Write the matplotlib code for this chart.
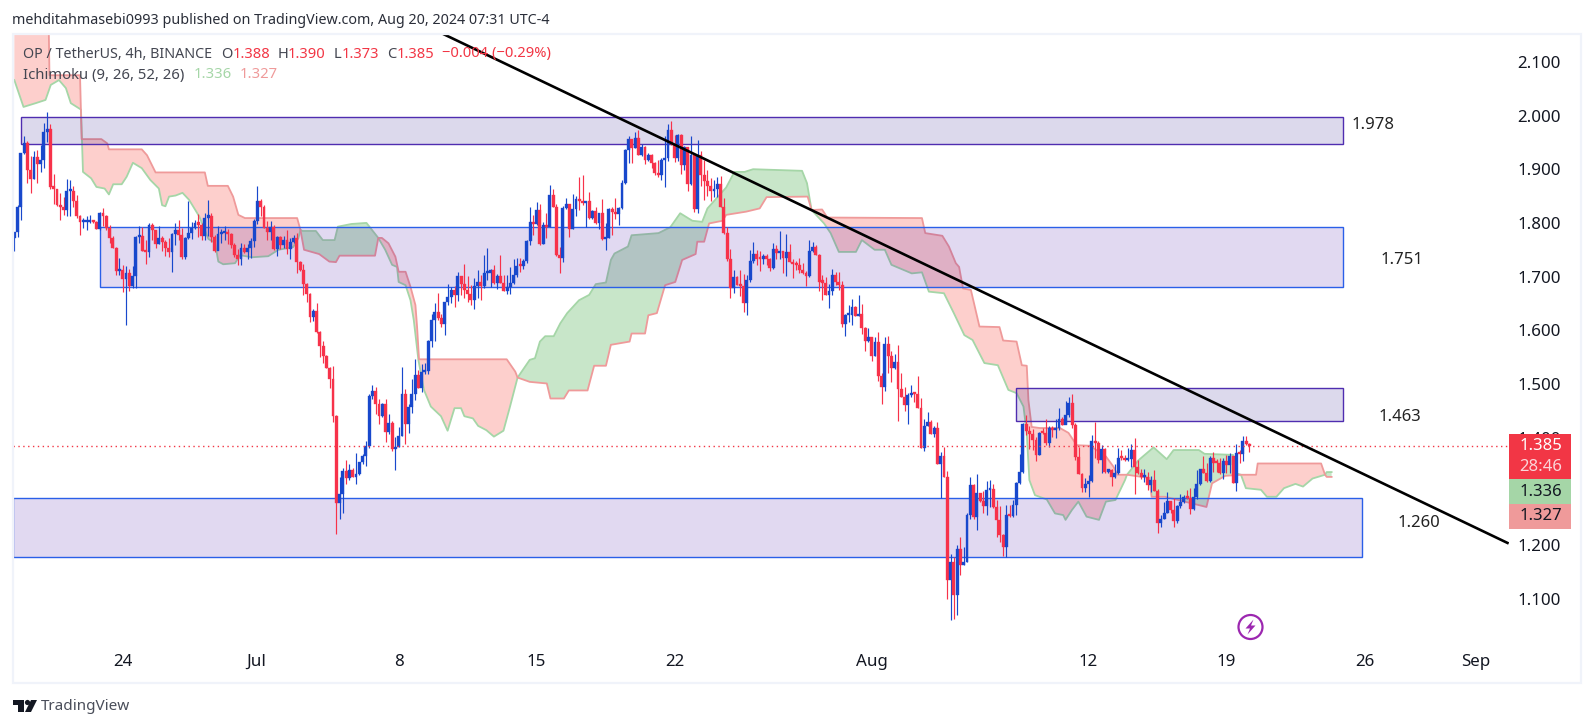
import matplotlib
matplotlib.use("Agg")
import matplotlib.pyplot as plt
import numpy as np
import pandas as pd
from matplotlib.patches import Circle, Polygon, Rectangle
from matplotlib.transforms import ScaledTranslation

plt.rcParams['font.family'] = ['Noto Sans', 'DejaVu Sans']

W, H = 1594, 728
BLUE = '#1848cc'
RED = '#f7324a'

# 4h candles, bar 0 = Jun 18 12:00, each open is the previous close
first_bar = pd.Timestamp('2024-06-18 12:00')
first_open = 1.772
closes = [
    1.783, 1.829, 1.930, 1.948, 1.899, 1.882, 1.922, 1.910, 1.918, 1.969, 1.974, 1.866, 1.864, 1.833, 1.830, 1.824, 1.859, 1.859,
    1.840, 1.812, 1.802, 1.802, 1.802, 1.802, 1.801, 1.789, 1.818, 1.812, 1.790, 1.771, 1.754, 1.710, 1.712, 1.696, 1.706, 1.682,
    1.702, 1.774, 1.776, 1.748, 1.745, 1.796, 1.786, 1.761, 1.771, 1.764, 1.754, 1.745, 1.779, 1.787, 1.777, 1.737, 1.771, 1.781,
    1.791, 1.799, 1.797, 1.776, 1.810, 1.812, 1.774, 1.748, 1.779, 1.781, 1.784, 1.779, 1.758, 1.740, 1.733, 1.753, 1.746, 1.753,
    1.766, 1.803, 1.840, 1.830, 1.791, 1.783, 1.792, 1.751, 1.774, 1.758, 1.769, 1.752, 1.764, 1.772, 1.728, 1.712, 1.686, 1.667,
    1.625, 1.636, 1.597, 1.571, 1.553, 1.530, 1.509, 1.440, 1.279, 1.296, 1.338, 1.325, 1.340, 1.327, 1.332, 1.354, 1.366, 1.385, 1.478,
    1.487, 1.463, 1.440, 1.463, 1.410, 1.427, 1.379, 1.383, 1.404, 1.481, 1.425, 1.457, 1.481, 1.517, 1.492, 1.522, 1.524, 1.580,
    1.619, 1.634, 1.622, 1.612, 1.653, 1.662, 1.675, 1.666, 1.701, 1.686, 1.675, 1.668, 1.656, 1.682, 1.690, 1.682, 1.707, 1.707,
    1.712, 1.688, 1.701, 1.689, 1.673, 1.680, 1.688, 1.703, 1.720, 1.719, 1.729, 1.766, 1.802, 1.798, 1.824, 1.761, 1.796, 1.792,
    1.852, 1.830, 1.740, 1.735, 1.828, 1.835, 1.789, 1.826, 1.844, 1.841, 1.837, 1.840, 1.809, 1.822, 1.799, 1.818, 1.770, 1.771,
    1.826, 1.821, 1.816, 1.828, 1.874, 1.936, 1.956, 1.939, 1.958, 1.926, 1.942, 1.917, 1.926, 1.911, 1.893, 1.889, 1.917, 1.921,
    1.973, 1.947, 1.921, 1.964, 1.908, 1.941, 1.872, 1.926, 1.826, 1.926, 1.889, 1.878, 1.869, 1.859, 1.864, 1.872, 1.830, 1.782, 1.733,
    1.679, 1.699, 1.684, 1.683, 1.650, 1.694, 1.729, 1.742, 1.733, 1.732, 1.738, 1.733, 1.716, 1.751, 1.744, 1.748, 1.735, 1.746,
    1.727, 1.723, 1.722, 1.712, 1.707, 1.701, 1.748, 1.755, 1.740, 1.690, 1.689, 1.666, 1.673, 1.703, 1.690, 1.684, 1.612, 1.628,
    1.629, 1.643, 1.627, 1.630, 1.604, 1.580, 1.587, 1.552, 1.578, 1.515, 1.494, 1.574, 1.552, 1.530, 1.541, 1.491, 1.476, 1.461, 1.479,
    1.483, 1.482, 1.455, 1.381, 1.422, 1.429, 1.407, 1.418, 1.351, 1.366, 1.327, 1.135, 1.168, 1.107, 1.193, 1.163, 1.168, 1.256, 1.312,
    1.252, 1.297, 1.282, 1.273, 1.302, 1.304, 1.271, 1.247, 1.219, 1.196, 1.256, 1.254, 1.275, 1.316, 1.336, 1.425, 1.412, 1.407,
    1.396, 1.368, 1.409, 1.408, 1.390, 1.418, 1.414, 1.418, 1.435, 1.424, 1.442, 1.465, 1.424, 1.364, 1.332, 1.306, 1.314, 1.320, 1.394, 1.390,
    1.358, 1.379, 1.337, 1.340, 1.327, 1.334, 1.363, 1.362, 1.358, 1.361, 1.377, 1.345, 1.334, 1.326, 1.327, 1.312,
    1.322, 1.301, 1.242, 1.249, 1.259, 1.282, 1.265, 1.244, 1.273, 1.280, 1.289, 1.288, 1.268, 1.289, 1.314, 1.342, 1.335, 1.319,
    1.363, 1.353, 1.352, 1.334, 1.357, 1.349, 1.366, 1.316, 1.372, 1.370, 1.394, 1.388, 1.385,
]
highs = [
    1.784, 1.833, 1.931, 1.962, 1.953, 1.925, 1.934, 1.936, 1.945, 1.986, 2.007, 1.984, 1.891, 1.864, 1.855, 1.848, 1.881, 1.879,
    1.869, 1.852, 1.815, 1.810, 1.812, 1.815, 1.804, 1.804, 1.820, 1.828, 1.815, 1.796, 1.776, 1.756, 1.734, 1.722, 1.719, 1.715,
    1.720, 1.776, 1.794, 1.793, 1.768, 1.799, 1.800, 1.787, 1.794, 1.776, 1.768, 1.771, 1.781, 1.799, 1.805, 1.790, 1.773, 1.840,
    1.802, 1.805, 1.817, 1.799, 1.819, 1.843, 1.818, 1.777, 1.794, 1.788, 1.794, 1.789, 1.782, 1.762, 1.751, 1.762, 1.761, 1.761,
    1.771, 1.807, 1.869, 1.844, 1.833, 1.803, 1.803, 1.796, 1.776, 1.776, 1.776, 1.787, 1.771, 1.777, 1.782, 1.730, 1.723, 1.689,
    1.669, 1.640, 1.650, 1.599, 1.581, 1.554, 1.532, 1.533, 1.443, 1.327, 1.343, 1.358, 1.351, 1.343, 1.371, 1.354, 1.369, 1.394, 1.481,
    1.498, 1.495, 1.472, 1.464, 1.473, 1.445, 1.431, 1.402, 1.420, 1.531, 1.490, 1.463, 1.509, 1.546, 1.527, 1.538, 1.540, 1.582,
    1.630, 1.650, 1.669, 1.631, 1.653, 1.686, 1.681, 1.682, 1.708, 1.702, 1.723, 1.701, 1.684, 1.697, 1.712, 1.703, 1.740, 1.753,
    1.715, 1.722, 1.705, 1.740, 1.703, 1.703, 1.718, 1.733, 1.735, 1.734, 1.733, 1.768, 1.830, 1.815, 1.839, 1.835, 1.802, 1.818,
    1.871, 1.864, 1.835, 1.755, 1.831, 1.846, 1.836, 1.854, 1.851, 1.885, 1.890, 1.841, 1.857, 1.824, 1.830, 1.818, 1.844, 1.799,
    1.828, 1.829, 1.846, 1.830, 1.880, 1.937, 1.962, 1.956, 1.969, 1.973, 1.947, 1.943, 1.931, 1.928, 1.914, 1.917, 1.921, 1.961,
    1.984, 1.990, 1.964, 1.966, 1.966, 1.943, 1.942, 1.962, 1.931, 1.954, 1.933, 1.917, 1.898, 1.883, 1.880, 1.886, 1.888, 1.846, 1.792,
    1.751, 1.713, 1.701, 1.713, 1.705, 1.703, 1.750, 1.764, 1.750, 1.748, 1.742, 1.742, 1.735, 1.763, 1.759, 1.785, 1.748, 1.779,
    1.761, 1.732, 1.729, 1.735, 1.725, 1.711, 1.768, 1.764, 1.759, 1.743, 1.703, 1.699, 1.686, 1.714, 1.709, 1.709, 1.692, 1.630,
    1.647, 1.658, 1.645, 1.666, 1.649, 1.607, 1.604, 1.588, 1.588, 1.597, 1.520, 1.587, 1.589, 1.561, 1.556, 1.572, 1.520, 1.494, 1.483,
    1.498, 1.485, 1.515, 1.474, 1.435, 1.448, 1.433, 1.422, 1.429, 1.373, 1.382, 1.338, 1.183, 1.178, 1.200, 1.215, 1.196, 1.259, 1.327,
    1.314, 1.332, 1.297, 1.301, 1.319, 1.321, 1.314, 1.284, 1.273, 1.220, 1.274, 1.274, 1.284, 1.317, 1.369, 1.427, 1.442, 1.422,
    1.417, 1.402, 1.410, 1.419, 1.435, 1.422, 1.422, 1.435, 1.455, 1.439, 1.468, 1.476, 1.481, 1.427, 1.382, 1.334, 1.325, 1.330, 1.405, 1.429,
    1.394, 1.386, 1.380, 1.341, 1.342, 1.351, 1.380, 1.378, 1.368, 1.380, 1.389, 1.399, 1.358, 1.341, 1.341, 1.337,
    1.329, 1.340, 1.304, 1.256, 1.280, 1.299, 1.283, 1.287, 1.275, 1.295, 1.293, 1.303, 1.306, 1.307, 1.340, 1.342, 1.365, 1.352,
    1.365, 1.374, 1.360, 1.362, 1.362, 1.368, 1.371, 1.366, 1.388, 1.377, 1.403, 1.403, 1.390,
]
lows = [
    1.748, 1.773, 1.805, 1.928, 1.875, 1.856, 1.881, 1.875, 1.894, 1.902, 1.950, 1.864, 1.835, 1.832, 1.805, 1.815, 1.812, 1.813,
    1.830, 1.810, 1.778, 1.791, 1.786, 1.799, 1.799, 1.788, 1.787, 1.794, 1.787, 1.762, 1.753, 1.703, 1.703, 1.672, 1.610, 1.673,
    1.679, 1.679, 1.763, 1.748, 1.724, 1.737, 1.769, 1.753, 1.761, 1.748, 1.739, 1.737, 1.709, 1.758, 1.768, 1.732, 1.733, 1.770,
    1.770, 1.788, 1.774, 1.768, 1.768, 1.776, 1.765, 1.745, 1.749, 1.762, 1.768, 1.761, 1.754, 1.737, 1.722, 1.722, 1.744, 1.733,
    1.735, 1.756, 1.798, 1.813, 1.790, 1.768, 1.768, 1.749, 1.738, 1.751, 1.754, 1.742, 1.733, 1.762, 1.707, 1.711, 1.666, 1.653,
    1.615, 1.618, 1.595, 1.551, 1.540, 1.529, 1.493, 1.430, 1.220, 1.248, 1.259, 1.314, 1.321, 1.326, 1.314, 1.330, 1.351, 1.348, 1.380,
    1.472, 1.445, 1.425, 1.439, 1.392, 1.407, 1.376, 1.340, 1.382, 1.403, 1.389, 1.408, 1.446, 1.470, 1.492, 1.486, 1.518, 1.518,
    1.568, 1.580, 1.620, 1.607, 1.591, 1.647, 1.651, 1.643, 1.655, 1.666, 1.660, 1.653, 1.647, 1.640, 1.661, 1.656, 1.678, 1.694,
    1.681, 1.686, 1.677, 1.689, 1.673, 1.668, 1.668, 1.687, 1.700, 1.709, 1.715, 1.726, 1.759, 1.777, 1.796, 1.759, 1.761, 1.771,
    1.792, 1.830, 1.739, 1.707, 1.727, 1.826, 1.774, 1.789, 1.813, 1.824, 1.833, 1.792, 1.807, 1.807, 1.798, 1.789, 1.768, 1.750,
    1.771, 1.777, 1.808, 1.796, 1.826, 1.872, 1.912, 1.912, 1.939, 1.926, 1.925, 1.910, 1.916, 1.902, 1.889, 1.886, 1.879, 1.866,
    1.916, 1.946, 1.914, 1.915, 1.891, 1.898, 1.860, 1.871, 1.821, 1.818, 1.869, 1.843, 1.851, 1.841, 1.849, 1.849, 1.830, 1.779, 1.730,
    1.661, 1.670, 1.684, 1.664, 1.635, 1.628, 1.690, 1.726, 1.722, 1.710, 1.723, 1.722, 1.710, 1.715, 1.733, 1.733, 1.707, 1.701,
    1.727, 1.697, 1.712, 1.706, 1.704, 1.682, 1.700, 1.745, 1.740, 1.673, 1.656, 1.666, 1.641, 1.666, 1.684, 1.675, 1.607, 1.589,
    1.615, 1.610, 1.626, 1.626, 1.593, 1.561, 1.579, 1.543, 1.552, 1.505, 1.463, 1.487, 1.520, 1.504, 1.528, 1.431, 1.475, 1.450, 1.425,
    1.475, 1.467, 1.455, 1.380, 1.375, 1.422, 1.406, 1.402, 1.351, 1.287, 1.327, 1.099, 1.060, 1.062, 1.070, 1.144, 1.163, 1.168, 1.248,
    1.248, 1.228, 1.281, 1.259, 1.256, 1.271, 1.270, 1.215, 1.206, 1.179, 1.177, 1.252, 1.252, 1.256, 1.314, 1.335, 1.405, 1.379,
    1.378, 1.356, 1.368, 1.407, 1.386, 1.383, 1.401, 1.399, 1.414, 1.423, 1.425, 1.439, 1.418, 1.358, 1.332, 1.299, 1.299, 1.290, 1.318, 1.362,
    1.352, 1.334, 1.335, 1.335, 1.310, 1.325, 1.332, 1.358, 1.357, 1.357, 1.346, 1.296, 1.332, 1.324, 1.318, 1.302,
    1.299, 1.300, 1.223, 1.234, 1.248, 1.259, 1.259, 1.234, 1.242, 1.270, 1.278, 1.286, 1.257, 1.265, 1.286, 1.312, 1.334, 1.318,
    1.317, 1.337, 1.337, 1.332, 1.324, 1.334, 1.334, 1.315, 1.301, 1.352, 1.357, 1.386, 1.373,
]

# Ichimoku cloud edges: bar position and price of each vertex
span_a_bars = [0, 2.8, 6.5, 9.5, 11.1, 13.6, 15.7, 17.2, 20.3, 20.9, 23.4, 25, 27.5, 28.8, 30.1, 32.7, 34.2, 36.1, 38.8, 41.4, 44, 45, 46,
               47.1, 49.1, 51.2, 53.2, 56.3, 59.1, 61.1, 62.1, 63.6, 67.2, 68.7, 72.3, 77.3, 80.4, 84.9, 86.5, 87.1, 87.7, 91.8, 93.9, 97.5,
               98.5, 102.6, 107.2, 110.8, 112.9, 115, 116.5, 117, 119.1, 120.6, 121.6, 123, 124.7, 126.8, 129.9, 131.9, 134, 136, 137, 139.6,
               141.2, 143.7, 146, 148.9, 150.9, 153.2, 156.9, 158.5, 160, 161.6, 164.2, 166.2, 168.3, 171.9, 175, 177, 180.1, 181.6, 182.7,
               186.8, 187.9, 196.1, 199.7, 202.7, 206.4, 209.4, 211, 216.7, 219.2, 222.3, 224.9, 239.8, 241.3, 242.7, 246.5, 248.5, 251, 256.2,
               258, 261.9, 265, 267, 273.2, 276.3, 278.4, 283, 286, 289.2, 291.7, 295.3, 299.4, 302.6, 305.1, 307.2, 308.2, 309, 310.7, 314.3,
               316.8, 319.3, 320, 321.9, 323.9, 326.4, 330.2, 332.3, 335.2, 338.1, 338.7, 342.2, 346.8, 350.8, 352.9, 360.6, 362.3, 371, 371.8,
               373.4, 374.9, 379.5, 381.3, 384.2, 386.5, 390, 392.3, 395.2, 399, 399.5, 401]
span_a = [2.066, 2.016, 2.023, 2.029, 2.057, 2.066, 2.051, 2.023, 2.011, 1.895, 1.883, 1.867, 1.864, 1.853, 1.872, 1.872, 1.886, 1.912, 1.902, 1.880,
          1.864, 1.833, 1.831, 1.849, 1.851, 1.856, 1.843, 1.812, 1.770, 1.763, 1.728, 1.723, 1.725, 1.740, 1.736, 1.738, 1.750, 1.755, 1.772, 1.787,
          1.785, 1.785, 1.768, 1.768, 1.793, 1.798, 1.800, 1.772, 1.750, 1.722, 1.718, 1.690, 1.684, 1.656, 1.619, 1.545, 1.489, 1.458, 1.440, 1.413,
          1.455, 1.455, 1.440, 1.436, 1.422, 1.414, 1.402, 1.413, 1.458, 1.512, 1.545, 1.548, 1.579, 1.589, 1.589, 1.613, 1.632, 1.656, 1.666, 1.686,
          1.689, 1.731, 1.743, 1.756, 1.777, 1.781, 1.792, 1.818, 1.804, 1.802, 1.827, 1.866, 1.895, 1.895, 1.900, 1.897, 1.874, 1.824, 1.799, 1.781,
          1.746, 1.746, 1.768, 1.750, 1.750, 1.722, 1.706, 1.708, 1.672, 1.669, 1.632, 1.591, 1.582, 1.539, 1.535, 1.489, 1.483, 1.458, 1.408, 1.321,
          1.293, 1.285, 1.259, 1.256, 1.247, 1.265, 1.281, 1.253, 1.247, 1.281, 1.284, 1.321, 1.331, 1.358, 1.382, 1.360, 1.377, 1.377, 1.370, 1.368,
          1.334, 1.331, 1.306, 1.303, 1.290, 1.290, 1.306, 1.314, 1.309, 1.324, 1.331, 1.336, 1.336]
span_b_bars = [0, 10.4, 10.7, 20, 20.5, 26.5, 28.3, 28.8, 38.8, 40.4, 43, 58, 58.9, 65, 66.6, 68.2, 70.2, 86.1, 87.1, 88.2, 92.8, 95.9, 97.9, 99,
               109.8, 110.8, 111.9, 113.9, 116, 117, 119.1, 120.6, 122.1, 122.6, 123.2, 149.9, 152.5, 153.2, 156.9, 162.1, 163.2, 167.3, 168.8,
               174.5, 176.5, 180.1, 181.6, 187.3, 187.9, 192, 193, 195.6, 198.1, 201.2, 203.3, 207.4, 207.9, 210, 211.5, 215.6, 216.7, 222.8,
               226.9, 229, 241.5, 242.7, 245.9, 247.5, 276.3, 277.3, 282.5, 284.5, 286.6, 287.6, 288.8, 291.2, 293.8, 299.9, 301, 305.1, 306.7,
               308.2, 308.7, 309.7, 312.2, 318.3, 320.9, 323.4, 327.5, 332.3, 334.6, 335.8, 338.7, 345.6, 346.2, 350.3, 362.9, 364.6, 368.6,
               373.4, 378, 378.5, 397.8, 399, 399.5, 401]
span_b = [2.196, 2.196, 2.075, 2.075, 1.956, 1.956, 1.948, 1.937, 1.937, 1.926, 1.894, 1.894, 1.869, 1.869, 1.849, 1.815, 1.809, 1.809, 1.787, 1.750,
          1.742, 1.728, 1.727, 1.739, 1.739, 1.772, 1.772, 1.762, 1.737, 1.709, 1.709, 1.681, 1.647, 1.607, 1.546, 1.546, 1.523, 1.512, 1.504, 1.501,
          1.473, 1.473, 1.488, 1.488, 1.534, 1.534, 1.573, 1.579, 1.594, 1.594, 1.628, 1.632, 1.684, 1.690, 1.731, 1.742, 1.765, 1.765, 1.799, 1.804,
          1.815, 1.821, 1.827, 1.848, 1.849, 1.824, 1.825, 1.810, 1.809, 1.781, 1.776, 1.756, 1.725, 1.718, 1.678, 1.675, 1.607, 1.606, 1.581, 1.579,
          1.535, 1.534, 1.470, 1.420, 1.418, 1.418, 1.409, 1.386, 1.385, 1.365, 1.346, 1.331, 1.331, 1.325, 1.290, 1.290, 1.271, 1.315, 1.329, 1.331,
          1.331, 1.352, 1.352, 1.331, 1.327, 1.327]
cloud_flips = [0, 87.1, 110.8, 153.2, 242.7, 338.7, 373.4, 399, 401]

# drawn zones: (left bar, right bar, bottom price, top price)
purple_zones = [(2.1, 404.5, 1.947, 1.998), (305, 404.5, 1.432, 1.492)]
blue_zones = [(26.2, 404.5, 1.680, 1.792), (-0.4, 410.2, 1.177, 1.287)]
trend_bars = [130.5, 454.9]
trend_prices = [2.152, 1.203]
last_close = 1.385

# 1.300 sits fully behind the 1.336 tag in the reference
price_ticks = [1.1, 1.2, 1.4, 1.5, 1.6, 1.7, 1.8, 1.9, 2.0, 2.1]
date_ticks = ['2024-06-24', '2024-07-01', '2024-07-08', '2024-07-15', '2024-07-22', '2024-08-01',
              '2024-08-12', '2024-08-19', '2024-08-26', '2024-09-01']
date_labels = ['24', 'Jul', '8', '15', '22', 'Aug', '12', '19', '26', 'Sep']

closes = np.array(closes)
highs = np.array(highs)
lows = np.array(lows)
opens = np.r_[first_open, closes[:-1]]
bars = np.arange(len(closes))

fig = plt.figure(figsize=(W / 100, H / 100), dpi=100, facecolor='white')
ax = fig.add_axes([13 / W, 1 - 683 / H, (1509 - 13) / W, (683 - 34) / H])
ax.set_xlim(-0.4, 455)
ax.set_ylim(0.9432, 2.1518)

# cloud
a_x, a_y = np.array(span_a_bars), np.array(span_a)
b_x, b_y = np.array(span_b_bars), np.array(span_b)
for n in range(len(cloud_flips) - 1):
    x0, x1 = cloud_flips[n], cloud_flips[n + 1]
    ka = (a_x >= x0) & (a_x <= x1)
    kb = (b_x >= x0) & (b_x <= x1)
    color = '#fdcfcc' if n % 2 == 0 else '#c8e6c9'
    poly = np.r_[np.c_[a_x[ka], a_y[ka]], np.c_[b_x[kb], b_y[kb]][::-1]]
    ax.fill(poly[:, 0], poly[:, 1], color=color, lw=0, zorder=1)
ax.plot(a_x, a_y, color='#a5d6a7', lw=1.3, zorder=1.5)
ax.plot(b_x, b_y, color='#ef9a9a', lw=1.3, zorder=1.6)

# boxes
for left, right, bottom, top in purple_zones:
    ax.add_patch(Rectangle((left, bottom), right - left, top - bottom, fc=(0.09, 0.0, 0.5, 0.15),
                           ec='#4f2db0', lw=1.0, zorder=2))
for left, right, bottom, top in blue_zones:
    ax.add_patch(Rectangle((left, bottom), right - left, top - bottom, fc=(0.22, 0.01, 0.64, 0.15),
                           ec='#2a5fe8', lw=1.0, zorder=2))

# candles
up = closes >= opens
colors = np.where(up, BLUE, RED)
ax.vlines(bars, lows, highs, colors=colors, lw=0.85, zorder=3)
body = np.maximum(np.abs(closes - opens), 0.004)
ax.bar(bars, body, bottom=np.minimum(opens, closes), width=0.88, color=colors, lw=0.25, edgecolor=colors, zorder=3.1)

ax.axhline(last_close, color='#f23645', lw=1.0, ls=(0, (1, 2.5)), zorder=3.2)
ax.plot(trend_bars, trend_prices, color='black', lw=1.9, zorder=4, solid_capstyle='butt')

# axes cosmetics
tick_bars = [(pd.Timestamp(d) - first_bar) / pd.Timedelta(hours=4) for d in date_ticks]
ax.set_xticks(tick_bars, date_labels)
ax.set_yticks(price_ticks, ['%.3f' % p for p in price_ticks])
ax.yaxis.tick_right()
ax.tick_params(axis='x', length=0, pad=-21, labelsize=12.2, labelcolor='#131722')
ax.tick_params(axis='y', length=0, pad=6, labelsize=12.2, labelcolor='#131722')
for label in ax.get_xticklabels():
    shift = {'Jul': -5, 'Sep': -7}.get(label.get_text(), 0)
    if shift:
        label.set_transform(label.get_transform() + ScaledTranslation(shift * 0.72 / 72, 0, fig.dpi_scale_trans))
for s in ax.spines.values():
    s.set_visible(False)
ax.patch.set_alpha(0)

# everything outside the data scale, in picture pixels
over = fig.add_axes([0, 0, 1, 1], zorder=10)
over.set_xlim(0, W)
over.set_ylim(H, 0)
over.axis('off')
over.add_patch(Rectangle((13, 33.5), 1568, 649.5, fc='none', ec='#f0f3fa', lw=1.6))


def txt(x, y, s, color='#131722', size=10.5, ha='left', **kw):
    over.text(x, y, s, color=color, fontsize=size, ha=ha, va='center', **kw)


txt(12, 20, 'mehditahmasebi0993 published on TradingView.com, Aug 20, 2024 07:31 UTC-4', size=10.3, color='#2a2e39')
gray = '#434651'
red_txt = '#f23645'
txt(23, 54, 'OP / TetherUS, 4h, BINANCE', gray, 10.3)
for x, s, c in [(221, 'O', gray), (233, '1.388', red_txt), (278, 'H', gray), (288, '1.390', red_txt),
                (334, 'L', gray), (342, '1.373', red_txt), (387, 'C', gray), (397, '1.385', red_txt),
                (442, '\u22120.004 (\u22120.29%)', red_txt)]:
    txt(x, 54, s, c, 10.6)
txt(23, 75, 'Ichimoku (9, 26, 52, 26)', gray, 10.7)
txt(193.5, 75, '1.336', '#a5d6a7', 10.7)
txt(240, 75, '1.327', '#ef9a9a', 10.7)

for x, y, s in [(1373, 125, '1.978'), (1402, 260.5, '1.751'), (1400, 417, '1.463'), (1419, 523, '1.260')]:
    txt(x, y, s, '#222222', 12, ha='center')

# price tags
over.add_patch(Rectangle((1509.5, 434), 62, 45, fc='#f23645', lw=0))
over.add_patch(Rectangle((1509.5, 479), 62, 25, fc='#a5d6a7', lw=0))
over.add_patch(Rectangle((1509.5, 504), 62, 25, fc='#ef9a9a', lw=0))
txt(1541, 446, '1.385', 'white', 12, ha='center')
txt(1541, 467, '28:46', '#fbd5d9', 12, ha='center')
txt(1541, 491.5, '1.336', '#131722', 12, ha='center')
txt(1541, 516.5, '1.327', '#131722', 12, ha='center')

# lightning badge
over.add_patch(Circle((1250.5, 627), 12, fc='none', ec='#9c27b0', lw=1.6))
over.add_patch(Polygon([(1253.5, 619.5), (1245.5, 628.5), (1250, 628.5), (1247.5, 634.5), (1255.5, 625.5), (1251, 625.5)],
                       fc='#9c27b0', lw=0))

# TradingView logo
over.add_patch(Polygon([(13, 700), (24, 700), (24, 712), (18, 712), (18, 705), (13, 705)], fc='#131722', lw=0))
over.add_patch(Circle((27.5, 702.5), 2.6, fc='#131722', lw=0))
over.add_patch(Polygon([(31, 700), (37, 700), (31, 712), (25, 712)], fc='#131722', lw=0))
txt(41, 706, 'TradingView', '#4a4e5a', 11)

fig.savefig('out.png', dpi=100, facecolor='white')
